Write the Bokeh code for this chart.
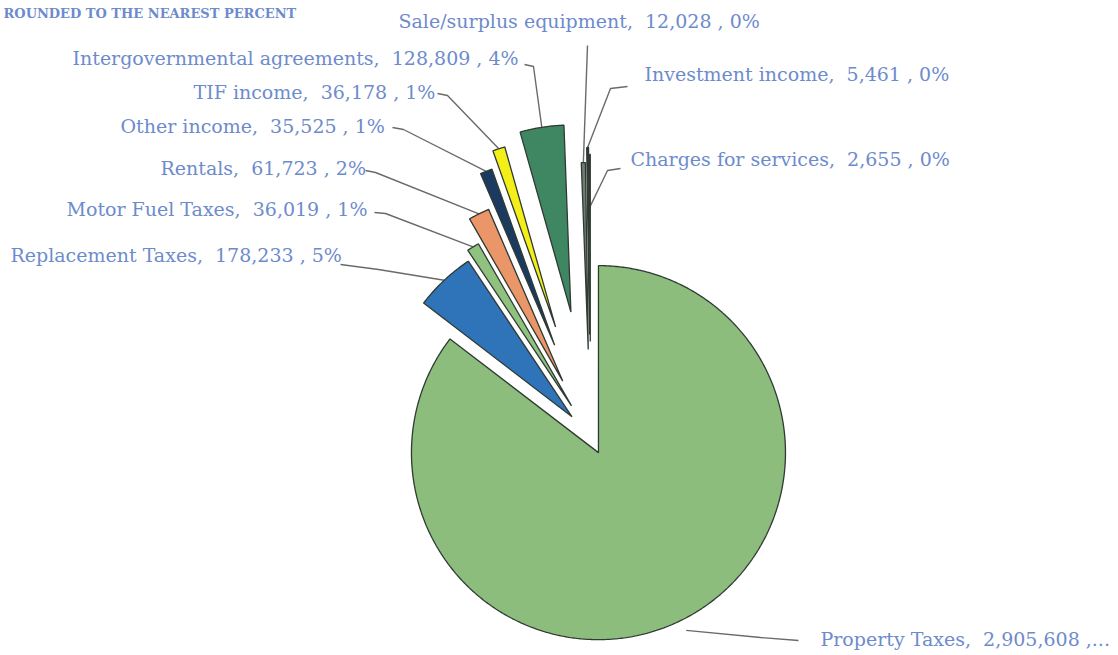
import numpy as np
from bokeh.plotting import figure
from bokeh.models import Range1d
from bokeh.embed import file_html
from bokeh.resources import INLINE
from bokeh.core.properties import value

# ---------------- data ----------------
categories = ["Property Taxes", "Replacement Taxes", "Motor Fuel Taxes", "Rentals",
              "Other income", "TIF income", "Intergovernmental agreements",
              "Sale/surplus equipment", "Investment income", "Charges for services"]
amounts = [2905608, 178233, 36019, 61723, 35525, 36178, 128809, 12028, 5461, 2655]
note = "ROUNDED TO THE NEAREST PERCENT"

# ---------------- style / layout ----------------
colors = ["#8cbd7c", "#2f74b8", "#8fc27f", "#ea9668", "#1b3a60", "#f4ef18",
          "#3f8663", "#707c72", "#2e3a33", "#4a554e"]
explode = [18, 27, 36, 62, 98, 115, 126, 87, 102, 95]
leader_r = [1.06, 1.0, 1.0, 1.0, 1.0, 1.0, 1.0, 1.0, 1.0, 0.72]
# label left x, label centre y (pixels)
label_x = [820, 10, 66, 160, 120, 193, 72, 398, 644, 630]
label_y = [638, 254, 208, 167, 125, 91, 57, 20, 73, 158]
# leader route points after slice (elbow, end)
leader_pts = [
    [(760, 637), (798, 640)],
    [(378, 269), (340, 264)],
    [(385, 213), (374, 212)],
    [(375, 172), (365, 170)],
    [(403, 129), (392, 127)],
    [(447, 95), (437, 93)],
    [(533, 66), (524, 64)],
    [(587, 45)],
    [(610, 88), (627, 86)],
    [(607, 170), (620, 168)],
]
CX, CY, R = 590.0, 436.0, 187.0
W, H = 1118, 655
TEXT_COLOR = "#6d8bcc"
SEP = ",\u00a0 "

total = float(sum(amounts))
fracs = [a / total for a in amounts]
pcts = [int(round(100 * f)) for f in fracs]
labels = []
for i, (c, a) in enumerate(zip(categories, amounts)):
    if i == 0:
        labels.append(f"{c}{SEP}{a:,} ,...")
    else:
        labels.append(f"{c}{SEP}{a:,} , {pcts[i]}%")

p = figure(width=W, height=H, output_backend="svg", toolbar_location=None,
           x_range=Range1d(0, W), y_range=Range1d(H, 0),
           x_axis_location=None, y_axis_location=None, min_border=0,
           background_fill_color="white", border_fill_color="white")
p.grid.visible = False
p.outline_line_color = None


def pt(cx, cy, r, th):
    t = np.radians(th)
    return cx + r * np.sin(t), cy - r * np.cos(t)


xs, ys, starts = [], [], []
cum = 0.0
for i, f in enumerate(fracs):
    t1 = cum * 360.0
    t2 = (cum + f) * 360.0
    cum += f
    mid = 0.5 * (t1 + t2)
    vx, vy = pt(CX, CY, explode[i], mid)
    th = np.linspace(t1, t2, max(4, int((t2 - t1) * 2)))
    ax, ay = pt(vx, vy, R, th)
    xs.append([vx] + list(ax))
    ys.append([vy] + list(ay))
    starts.append(pt(vx, vy, R * leader_r[i], mid))

# leader lines
lx, ly = [], []
for i in range(len(amounts)):
    pts = [starts[i]] + leader_pts[i]
    lx.append([q[0] for q in pts])
    ly.append([q[1] for q in pts])
p.multi_line(lx, ly, line_color="#5a5a5a", line_width=1.4, line_alpha=0.9)

p.patches(xs, ys, fill_color=colors, line_color="#2f3a33", line_width=1.3)

p.text(x=label_x, y=label_y, text=labels, text_font=value("DejaVu Serif"),
       text_font_size=value("19px"), text_color=TEXT_COLOR,
       text_baseline="middle", text_align="left")

p.text(x=[3], y=[13], text=[note], text_font=value("DejaVu Serif"),
       text_font_size=value("13px"), text_font_style="bold",
       text_color=TEXT_COLOR, text_baseline="middle", text_align="left")

open("out.html", "w").write(file_html(p, INLINE))
